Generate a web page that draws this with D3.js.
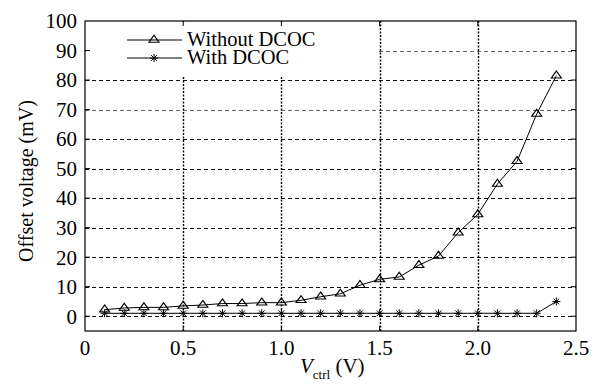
<!DOCTYPE html>
<html>
<head>
<meta charset="utf-8">
<script src="https://cdn.jsdelivr.net/npm/d3@7"></script>
</head>
<body style="margin:0">
<script>
const vctrl = [0.1, 0.2, 0.3, 0.4, 0.5, 0.6, 0.7, 0.8, 0.9, 1.0, 1.1, 1.2,
               1.3, 1.4, 1.5, 1.6, 1.7, 1.8, 1.9, 2.0, 2.1, 2.2, 2.3, 2.4];
const withoutDcoc = [2.2, 2.8, 3.0, 3.0, 3.5, 3.8, 4.3, 4.3, 4.6, 4.6, 5.4, 6.6,
                     7.6, 10.5, 12.5, 13.3, 17.3, 20.4, 28.3, 34.5, 44.8, 52.5, 68.5, 81.5];
const withDcoc = [1, 1, 1, 1, 1, 1, 1, 1, 1, 1, 1, 1,
                  1, 1, 1, 1, 1, 1, 1, 1, 1, 1, 1, 5];
const xTicks = [0, 0.5, 1.0, 1.5, 2.0, 2.5];
const xTickLabels = ['0', '0.5', '1.0', '1.5', '2.0', '2.5'];
const yTicks = [0, 10, 20, 30, 40, 50, 60, 70, 80, 90, 100];
const seriesNames = ['Without DCOC', 'With DCOC'];

const width = 598, height = 385;
const margin = { top: 21, right: 22, bottom: 54, left: 85 };
const serif = "'Liberation Serif'";

const svg = d3.select('body').append('svg')
    .attr('width', width)
    .attr('height', height)
    .style('display', 'block');

const x = d3.scaleLinear().domain([0, 2.5]).range([margin.left, width - margin.right]);
const y = d3.scaleLinear().domain([-5, 100]).range([height - margin.bottom, margin.top]);

// grid
svg.append('g').selectAll('line')
    .data(yTicks.filter(d => d < 100))
    .join('line')
    .attr('x1', x(0)).attr('x2', x(2.5))
    .attr('y1', d => Math.round(y(d)) + 0.5).attr('y2', d => Math.round(y(d)) + 0.5)
    .attr('stroke', d => d === 70 || d === 90 ? '#666' : '#111')
    .attr('stroke-width', 1.2)
    .attr('stroke-dasharray', '4,3');

svg.append('g').selectAll('line')
    .data(xTicks.filter(d => d > 0 && d < 2.5))
    .join('line')
    .attr('x1', d => Math.round(x(d)) + 0.5).attr('x2', d => Math.round(x(d)) + 0.5)
    .attr('y1', y(100)).attr('y2', y(-5))
    .attr('stroke', '#000')
    .attr('stroke-width', 1.4)
    .attr('stroke-dasharray', '2,1.5');

// legend background hides grid beneath it
svg.append('rect')
    .attr('x', x(0) + 1).attr('y', y(100) + 1)
    .attr('width', x(1.5) - x(0) - 3)
    .attr('height', y(81.2) - y(100) - 1)
    .attr('fill', '#fff');

const line = d3.line().x(d => x(d[0])).y(d => y(d[1]));
const tri = d3.symbol().type(d3.symbolTriangle).size(28);

function star(g, size) {
    const r = size / 2, k = r * 0.72;
    g.append('line').attr('x1', -r).attr('x2', r).attr('y1', 0).attr('y2', 0);
    g.append('line').attr('x1', 0).attr('x2', 0).attr('y1', -r).attr('y2', r);
    g.append('line').attr('x1', -k).attr('x2', k).attr('y1', -k).attr('y2', k);
    g.append('line').attr('x1', -k).attr('x2', k).attr('y1', k).attr('y2', -k);
}

const s1 = vctrl.map((v, i) => [v, withoutDcoc[i]]);
const s2 = vctrl.map((v, i) => [v, withDcoc[i]]);

svg.append('path').datum(s2)
    .attr('d', line).attr('fill', 'none').attr('stroke', '#000').attr('stroke-width', 1);
svg.append('path').datum(s1)
    .attr('d', line).attr('fill', 'none').attr('stroke', '#000').attr('stroke-width', 1);

svg.append('g').selectAll('path')
    .data(s1)
    .join('path')
    .attr('transform', d => `translate(${x(d[0])},${y(d[1])}) scale(1.25,1)`)
    .attr('d', tri)
    .attr('fill', 'none')
    .attr('stroke', '#000')
    .attr('stroke-width', 1);

svg.append('g').selectAll('g')
    .data(s2)
    .join('g')
    .attr('transform', d => `translate(${x(d[0])},${y(d[1])})`)
    .attr('stroke', '#000')
    .attr('stroke-width', 1)
    .each(function() { star(d3.select(this), 8); });

// legend
const legendRows = [40, 58];
seriesNames.forEach((name, i) => {
    const ly = legendRows[i];
    svg.append('line')
        .attr('x1', 127).attr('x2', 182).attr('y1', ly).attr('y2', ly)
        .attr('stroke', '#000').attr('stroke-width', 1);
    const m = svg.append('g')
        .attr('transform', `translate(154,${ly})`)
        .attr('stroke', '#000').attr('stroke-width', 1);
    if (i === 0) {
        m.append('path').attr('d', tri).attr('fill', 'none').attr('transform', 'scale(1.25,1)');
    } else {
        star(m, 8);
    }
    svg.append('text')
        .attr('x', 187).attr('y', ly + 6)
        .style('font-family', serif).style('font-size', '20.5px')
        .text(name);
});

// frame
svg.append('rect')
    .attr('x', x(0)).attr('y', y(100))
    .attr('width', x(2.5) - x(0)).attr('height', y(-5) - y(100))
    .attr('fill', 'none').attr('stroke', '#000').attr('stroke-width', 1.2);

// ticks (inward, all four sides)
const tickLen = 5;
xTicks.slice(1, -1).forEach(t => {
    svg.append('line').attr('x1', x(t)).attr('x2', x(t))
        .attr('y1', y(-5)).attr('y2', y(-5) - tickLen).attr('stroke', '#000');
    svg.append('line').attr('x1', x(t)).attr('x2', x(t))
        .attr('y1', y(100)).attr('y2', y(100) + tickLen).attr('stroke', '#000');
});
yTicks.slice(0, -1).forEach(t => {
    svg.append('line').attr('x1', x(0)).attr('x2', x(0) + tickLen)
        .attr('y1', y(t)).attr('y2', y(t)).attr('stroke', '#000');
    svg.append('line').attr('x1', x(2.5)).attr('x2', x(2.5) - tickLen)
        .attr('y1', y(t)).attr('y2', y(t)).attr('stroke', '#000');
});

// tick labels
svg.append('g')
    .selectAll('text')
    .data(xTicks)
    .join('text')
    .style('font-family', serif).style('font-size', '21px')
    .attr('x', d => x(d))
    .attr('y', height - margin.bottom + 24)
    .attr('text-anchor', 'middle')
    .text((d, i) => xTickLabels[i]);

svg.append('g')
    .selectAll('text')
    .data(yTicks)
    .join('text')
    .style('font-family', serif).style('font-size', '21px')
    .attr('x', margin.left - 8)
    .attr('y', d => y(d))
    .attr('dy', '0.35em')
    .attr('text-anchor', 'end')
    .text(d => d);

// axis titles
const xt = svg.append('text')
    .style('font-family', serif).style('font-size', '21px')
    .attr('x', 300).attr('y', 373);
xt.append('tspan').style('font-style', 'italic').text('V');
xt.append('tspan').style('font-size', '13px').attr('dy', 6).text('ctrl');
xt.append('tspan').attr('dy', -6).text(' (V)');

svg.append('text')
    .style('font-family', serif).style('font-size', '20px')
    .attr('transform', `translate(33,181) rotate(-90)`)
    .attr('text-anchor', 'middle')
    .text('Offset voltage (mV)');
</script>
</body>
</html>
